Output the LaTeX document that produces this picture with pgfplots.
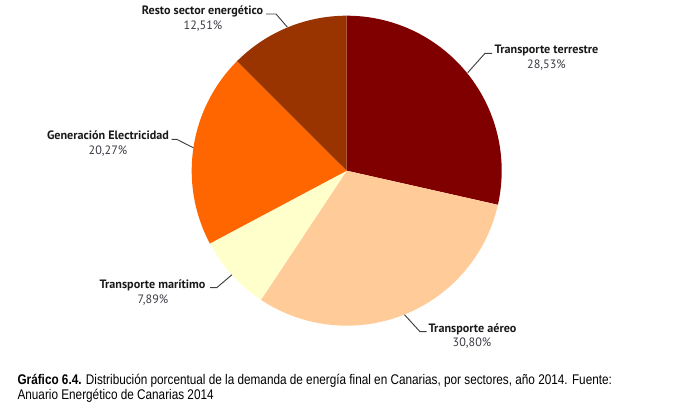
\documentclass[border=0pt]{standalone}
\usepackage{pgfplots}
\pgfplotsset{compat=1.18}
\usepackage{fontspec}
\setmainfont{Liberation Sans}
\newfontfamily\lblfont{PT Sans}
\newfontfamily\capfont[FakeStretch=0.84]{Liberation Sans}
\definecolor{cTerr}{HTML}{800000}
\definecolor{cAereo}{HTML}{FFCC99}
\definecolor{cMarit}{HTML}{FFFFCC}
\definecolor{cGen}{HTML}{FF6600}
\definecolor{cResto}{HTML}{993300}
\definecolor{leader}{HTML}{404040}
\definecolor{pcttext}{HTML}{3A3A44}
\begin{document}
\begin{tikzpicture}
% shares (%)
\pgfmathsetmacro\pTerr{28.53}
\pgfmathsetmacro\pAereo{30.80}
\pgfmathsetmacro\pMarit{7.89}
\pgfmathsetmacro\pGen{20.27}
\pgfmathsetmacro\pResto{12.51}
\pgfmathsetmacro\aA{90}
\pgfmathsetmacro\aB{\aA-3.6*\pTerr}
\pgfmathsetmacro\aC{\aB-3.6*\pAereo}
\pgfmathsetmacro\aD{\aC-3.6*\pMarit}
\pgfmathsetmacro\aE{\aD-3.6*\pGen}
\pgfmathsetmacro\aF{\aE-3.6*\pResto}
\def\R{116.25pt}
\def\lbl{\lblfont\fontsize{9.1pt}{10pt}\selectfont}
\begin{axis}[x=0.75pt,y=0.75pt,xmin=0,xmax=682,ymin=0,ymax=414,
  hide axis,clip=false,scale only axis]
\addplot[draw=none,forget plot] coordinates {(0,0) (682,0) (682,414) (0,414)} -- cycle;
\addplot[draw=none,fill=cTerr] coordinates {(346.7,243.3)} -- ++(\aA:\R) arc[start angle=\aA,end angle=\aB,radius=\R] -- cycle;
\addplot[draw=none,fill=cAereo] coordinates {(346.7,243.3)} -- ++(\aB:\R) arc[start angle=\aB,end angle=\aC,radius=\R] -- cycle;
\addplot[draw=none,fill=cMarit] coordinates {(346.7,243.3)} -- ++(\aC:\R) arc[start angle=\aC,end angle=\aD,radius=\R] -- cycle;
\addplot[draw=none,fill=cGen] coordinates {(346.7,243.3)} -- ++(\aD:\R) arc[start angle=\aD,end angle=\aE,radius=\R] -- cycle;
\addplot[draw=none,fill=cResto] coordinates {(346.7,243.3)} -- ++(\aE:\R) arc[start angle=\aE,end angle=\aF,radius=\R] -- cycle;
% leader lines
\addplot[leader,line width=0.7pt,no marks] coordinates {(467.7,341.3) (485,360.7) (492,360.7)};
\addplot[leader,line width=0.7pt,no marks] coordinates {(404.4,99.4) (420,82.3) (426.7,82.3)};
\addplot[leader,line width=0.7pt,no marks] coordinates {(231.9,139.2) (216.7,126.3) (210,126.3)};
\addplot[leader,line width=0.7pt,no marks] coordinates {(193.4,266.2) (176.7,274.7) (171.7,274.7)};
\addplot[leader,line width=0.7pt,no marks] coordinates {(287.4,386.8) (276,400) (266,400)};
% labels
\node[font=\lbl\bfseries,text=black!90] at (546.5,364) {Transporte terrestre};
\node[font=\lbl,text=pcttext] at (546.5,349) {28,53\%};
\node[font=\lbl\bfseries,text=black!90] at (472.5,84.7) {Transporte aéreo};
\node[font=\lbl,text=pcttext] at (472,70.7) {30,80\%};
\node[font=\lbl\bfseries,text=black!90] at (152.5,129) {Transporte marítimo};
\node[font=\lbl,text=pcttext] at (153,114) {7,89\%};
\node[font=\lbl\bfseries,text=black!90] at (108,279) {Generación Electricidad};
\node[font=\lbl,text=pcttext] at (108,263.3) {20,27\%};
\node[font=\lbl\bfseries,text=black!90] at (202.5,403) {Resto sector energético};
\node[font=\lbl,text=pcttext] at (203,388) {12,51\%};
% caption
\node[anchor=base west,inner sep=0pt,font=\capfont\fontsize{10.5pt}{12pt}\selectfont] at (17.3,29) {\textbf{Gráfico 6.4.} Distribución porcentual de la demanda de energía final en Canarias, por sectores, año 2014. Fuente:};
\node[anchor=base west,inner sep=0pt,font=\capfont\fontsize{10.5pt}{12pt}\selectfont] at (17.3,14) {Anuario Energético de Canarias 2014};
\end{axis}
\end{tikzpicture}
\end{document}
